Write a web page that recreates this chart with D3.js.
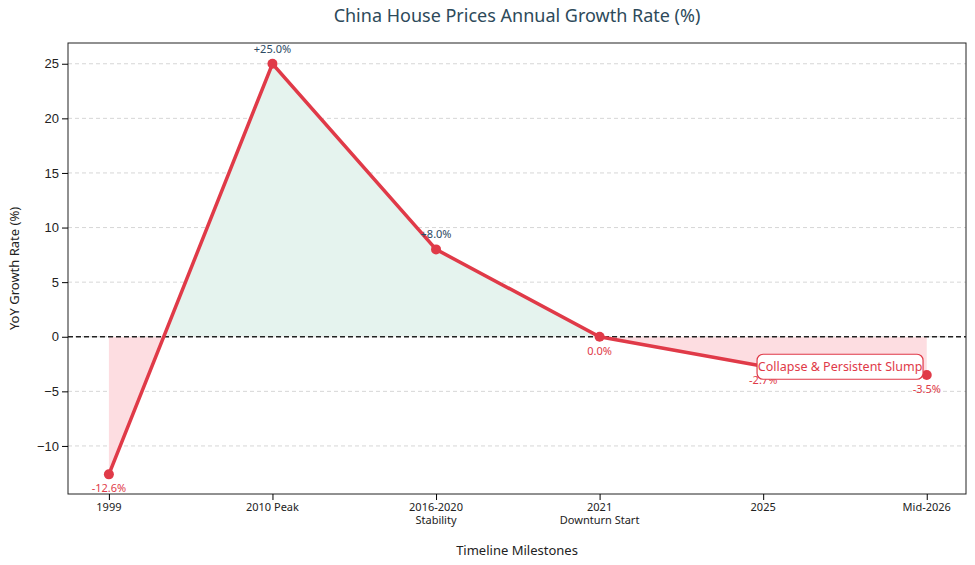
<!DOCTYPE html>
<html><head><meta charset="utf-8">
<script src="https://cdn.jsdelivr.net/npm/d3@7"></script>
<style>body{margin:0;background:#fff;font-family:"Noto Sans",sans-serif}</style>
</head><body><svg id="c" width="975" height="565"></svg>
<script>
const milestones = ["1999", "2010 Peak", "2016-2020\nStability", "2021\nDownturn Start", "2025", "Mid-2026"];
const growth = [-12.6, 25.0, 8.0, 0.0, -2.7, -3.5];
const yTicks = [-10, -5, 0, 5, 10, 15, 20, 25];

const svg = d3.select('#c');
const L = 68, R = 966, T = 43, B = 494;
const x = d3.scaleLinear().domain([-0.25, 5.24]).range([L, R]);
const y = d3.scaleLinear().domain([-14.4, 26.9]).range([B, T]);
const red = '#e03a48', navy = '#2d4a63';

// grid
svg.selectAll('.g').data(yTicks).enter().append('line')
  .attr('x1', L).attr('x2', R).attr('y1', d => y(d)).attr('y2', d => y(d))
  .attr('stroke', '#ccc').attr('stroke-dasharray', '4,3').attr('stroke-width', 0.8);

const pts = growth.map((v, i) => [i, v]);
const area = d3.area().x(d => x(d[0])).y0(y(0)).y1(d => y(d[1]));
const defs = svg.append('defs');
defs.append('clipPath').attr('id', 'pos').append('rect').attr('x', 0).attr('y', 0).attr('width', 975).attr('height', y(0));
defs.append('clipPath').attr('id', 'neg').append('rect').attr('x', 0).attr('y', y(0)).attr('width', 975).attr('height', 565);
svg.append('path').datum(pts).attr('d', area).attr('fill', '#e5f3ee').attr('clip-path', 'url(#pos)');
svg.append('path').datum(pts).attr('d', area).attr('fill', '#fddde1').attr('clip-path', 'url(#neg)');

svg.append('line').attr('x1', L).attr('x2', R).attr('y1', y(0)).attr('y2', y(0))
  .attr('stroke', '#222').attr('stroke-dasharray', '5,3').attr('stroke-width', 1.3);

svg.append('path').datum(pts).attr('d', d3.line().x(d => x(d[0])).y(d => y(d[1])))
  .attr('fill', 'none').attr('stroke', red).attr('stroke-width', 3.5);
svg.selectAll('.p').data(pts).enter().append('circle')
  .attr('cx', d => x(d[0])).attr('cy', d => y(d[1])).attr('r', 5).attr('fill', red);

svg.selectAll('.lbl').data(pts).enter().append('text')
  .attr('x', d => x(d[0])).attr('y', d => d[1] > 0 ? y(d[1]) - 11 : y(d[1]) + 18)
  .attr('text-anchor', 'middle').attr('font-size', 11)
  .attr('fill', d => d[1] > 0 ? navy : red)
  .text(d => (d[1] > 0 ? '+' : '') + d[1].toFixed(1) + '%');

// annotation
const ag = svg.append('g').attr('transform', `translate(${x(4.47)},${y(-2.7)})`);
ag.append('rect').attr('x', -83).attr('y', -12).attr('width', 166).attr('height', 25).attr('rx', 6)
  .attr('fill', '#fff').attr('stroke', red).attr('stroke-width', 1.2);
ag.append('text').attr('text-anchor', 'middle').attr('y', 5).attr('font-size', 12.5).attr('fill', red)
  .text('Collapse & Persistent Slump');

// axes
svg.append('rect').attr('x', L).attr('y', T).attr('width', R - L).attr('height', B - T)
  .attr('fill', 'none').attr('stroke', '#222');
const ya = svg.append('g').attr('transform', `translate(${L},0)`)
  .call(d3.axisLeft(y).tickValues(yTicks).tickFormat(d => d < 0 ? '−' + Math.abs(d) : d).tickSizeOuter(0));
ya.select('.domain').remove();
ya.selectAll('text').attr('font-size', 13).attr('fill', '#222');
const xa = svg.append('g').attr('transform', `translate(0,${B})`)
  .call(d3.axisBottom(x).tickValues(d3.range(6)).tickFormat('').tickSizeOuter(0));
xa.select('.domain').remove();
milestones.forEach((m, i) => {
  m.split('\n').forEach((s, j) => svg.append('text').attr('x', x(i)).attr('y', B + 17 + j * 13)
    .attr('text-anchor', 'middle').attr('font-size', 11).attr('fill', '#222').text(s));
});

svg.append('text').attr('x', 517).attr('y', 22).attr('text-anchor', 'middle').attr('font-size', 18)
  .attr('fill', '#2d4a5a').text('China House Prices Annual Growth Rate (%)');
svg.append('text').attr('x', 517).attr('y', 555).attr('text-anchor', 'middle').attr('font-size', 13)
  .attr('fill', '#222').text('Timeline Milestones');
svg.append('text').attr('transform', `translate(19,${(T + B) / 2}) rotate(-90)`).attr('text-anchor', 'middle')
  .attr('font-size', 13).attr('fill', '#222').text('YoY Growth Rate (%)');
</script></body></html>
